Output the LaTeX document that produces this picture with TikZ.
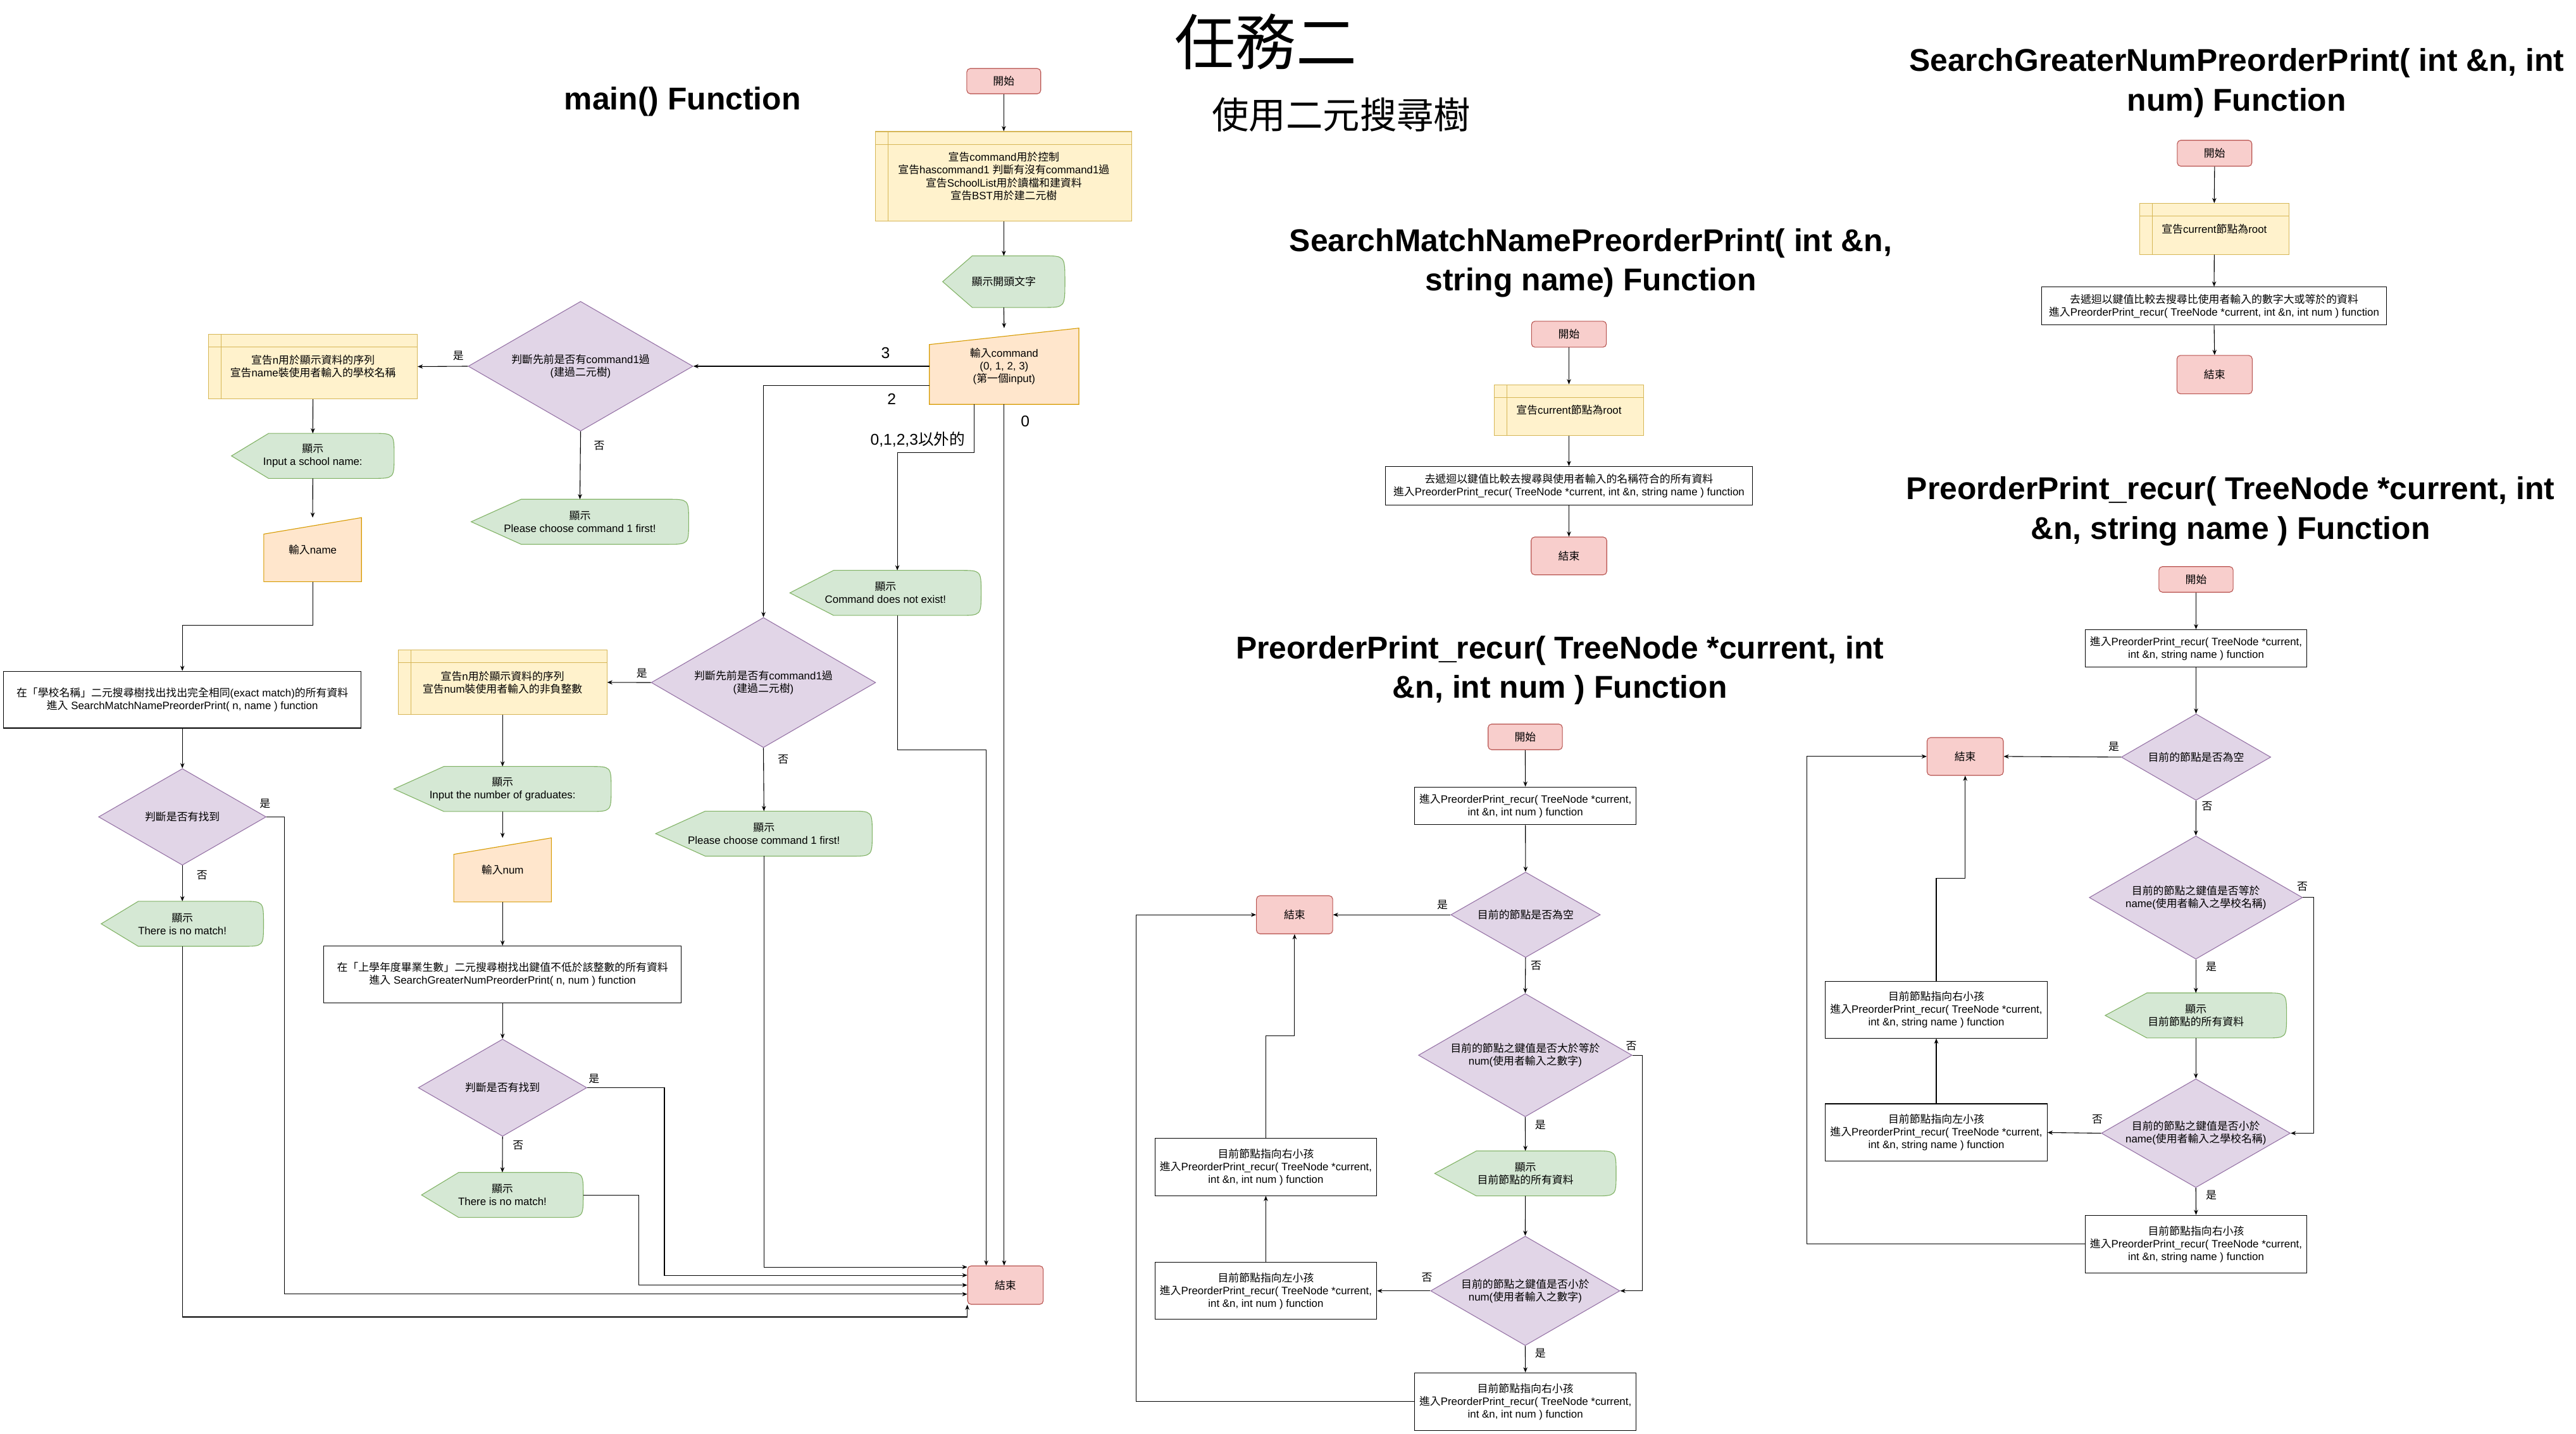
\documentclass[tikz,border=0pt]{standalone}
\usepackage{fontspec}
\setmainfont{Liberation Sans}
\newfontfamily\latinfont{Liberation Sans}
\newfontfamily\cjkfont{Noto Sans CJK TC}
\usetikzlibrary{shapes.geometric,arrows.meta,backgrounds}

% switch to the CJK font for runs of Chinese characters
\XeTeXinterchartokenstate=1
\newXeTeXintercharclass\cjkclass
\newcount\cjkcnt
\cjkcnt="3000
\loop\ifnum\cjkcnt<"A000
  \XeTeXcharclass\cjkcnt=\cjkclass
  \advance\cjkcnt by 1
\repeat
\cjkcnt="FF00
\loop\ifnum\cjkcnt<"FFF0
  \XeTeXcharclass\cjkcnt=\cjkclass
  \advance\cjkcnt by 1
\repeat
\XeTeXinterchartoks 0 \cjkclass = {\cjkfont}
\XeTeXinterchartoks 4095 \cjkclass = {\cjkfont}
\XeTeXinterchartoks \cjkclass 0 = {\latinfont}
\XeTeXinterchartoks \cjkclass 4095 = {\latinfont}

\definecolor{termfill}{HTML}{F8CECC}
\definecolor{termline}{HTML}{B85450}
\definecolor{storefill}{HTML}{FFF2CC}
\definecolor{storeline}{HTML}{D6B656}
\definecolor{dispfill}{HTML}{D5E8D4}
\definecolor{displine}{HTML}{82B366}
\definecolor{manfill}{HTML}{FFE6CC}
\definecolor{manline}{HTML}{D79B00}
\definecolor{decfill}{HTML}{E1D5E7}
\definecolor{decline}{HTML}{9673A6}

\begin{document}
\begin{tikzpicture}[
        x=0.05cm, y=0.05cm,
        >={Stealth[length=4.5pt,width=3.6pt]},
        font=\fontsize{9.25}{11}\selectfont,
        base/.style={
            align=center,
            inner sep=1pt,
            line width=0.6pt
        },
        term/.style={
            base,
            rectangle,
            rounded corners=3pt,
            draw=termline,
            fill=termfill
        },
        store/.style={
            base,
            rectangle,
            draw=storeline,
            fill=storefill,
            path picture={
                \draw[storeline, line width=0.6pt] ([xshift=0.38cm]path picture bounding box.north west) -- ([xshift=0.38cm]path picture bounding box.south west);
                \draw[storeline, line width=0.6pt] ([yshift=-0.39cm]path picture bounding box.north west) -- ([yshift=-0.39cm]path picture bounding box.north east);
            }
        },
        proc/.style={
            base,
            rectangle,
            draw=black,
            fill=white
        },
        decide/.style={
            base,
            diamond,
            aspect=1.73,
            inner sep=0pt,
            draw=decline,
            fill=decfill
        },
        disp/.style={
            base,
            inner sep=0pt
        },
        manin/.style={
            base,
            inner sep=0pt
        },
        dispshape/.style={
            draw=displine,
            fill=dispfill,
            line width=0.6pt
        },
        manshape/.style={
            draw=manline,
            fill=manfill,
            line width=0.6pt
        },
        ptr/.style={
            ->,
            line width=0.6pt
        },
        lbl/.style={inner sep=0pt},
        biglbl/.style={inner sep=0pt, font=\fontsize{13.5}{16}\selectfont},
        ttl/.style={align=center, font=\fontsize{27.3}{34}\selectfont\bfseries}
    ]

    \useasboundingbox (0,0) rectangle (1568,-873);

    % titles
    \node[font=\fontsize{52.6}{60}\selectfont] (tTask) at (770.5,-25.5) {任務二};
    \node[font=\fontsize{32}{38}\selectfont] (tBST) at (816.5,-70) {使用二元搜尋樹};
    \node[ttl] (tMain) at (415.5,-62) {main() Function};
    \node[ttl] (tMatch) at (968.3,-160) {SearchMatchNamePreorderPrint( int \&n,\\string name) Function};
    \node[ttl] (tGreater) at (1361.5,-50.5) {SearchGreaterNumPreorderPrint( int \&n, int\\num) Function};
    \node[ttl] (tRecNum) at (949.5,-408) {PreorderPrint\_recur( TreeNode *current, int\\\&n, int num ) Function};
    \node[ttl] (tRecName) at (1357.7,-311.3) {PreorderPrint\_recur( TreeNode *current, int\\\&n, string name ) Function};

    % main()
    \node[term, minimum width=2.25cm, minimum height=0.77cm] (mStart) at (611,-49.4) {開始};
    \node[store, minimum width=7.8cm, minimum height=2.72cm] (mDecl) at (611,-107.3) {宣告command用於控制\\宣告hascommand1 判斷有沒有command1過\\宣告SchoolList用於讀檔和建資料\\宣告BST用於建二元樹};
    \node[disp, minimum width=3.7cm, minimum height=1.55cm] (mShow) at (611,-171.5) {顯示開頭文字};
    \node[manin, minimum width=4.53cm, minimum height=2.3cm] (mCmd) at (611.2,-223) {輸入command\\(0, 1, 2, 3)\\(第一個input)};
    \node[term, minimum width=2.3cm, minimum height=1.17cm] (mEnd) at (612,-782.5) {結束};
    \node[disp, minimum width=5.8cm, minimum height=1.35cm] (mNotExist) at (539,-361) {顯示\\Command does not exist!};

    \node[decide, minimum width=6.84cm, minimum height=3.95cm] (mHas1) at (353.4,-223) {判斷先前是否有command1過\\(建過二元樹)};
    \node[store, minimum width=6.35cm, minimum height=1.97cm] (mDeclName) at (190.5,-223.2) {宣告n用於顯示資料的序列\\宣告name裝使用者輸入的學校名稱};
    \node[disp, minimum width=6.6cm, minimum height=1.35cm] (mNo1) at (353,-317.7) {顯示\\Please choose command 1 first!};
    \node[disp, minimum width=4.93cm, minimum height=1.35cm] (mAskName) at (190.4,-277.6) {顯示\\Input a school name:};
    \node[manin, minimum width=2.95cm, minimum height=1.93cm] (mInName) at (190.3,-334.7) {輸入name};
    \node[proc, minimum width=10.88cm, minimum height=1.73cm] (mFindName) at (111,-426) {在「學校名稱」二元搜尋樹找出找出完全相同(exact match)的所有資料\\進入 SearchMatchNamePreorderPrint( n, name ) function};
    \node[decide, minimum width=5.1cm, minimum height=2.94cm] (mFound1) at (111,-497.4) {判斷是否有找到};
    \node[disp, minimum width=4.92cm, minimum height=1.35cm] (mNoMatch1) at (111,-562.5) {顯示\\There is no match!};

    \node[decide, minimum width=6.83cm, minimum height=3.96cm] (mHas2) at (464.7,-415.6) {判斷先前是否有command1過\\(建過二元樹)};
    \node[store, minimum width=6.35cm, minimum height=1.97cm] (mDeclNum) at (305.9,-415.5) {宣告n用於顯示資料的序列\\宣告num裝使用者輸入的非負整數};
    \node[disp, minimum width=6.57cm, minimum height=1.35cm] (mNo2) at (465,-507.6) {顯示\\Please choose command 1 first!};
    \node[disp, minimum width=6.59cm, minimum height=1.35cm] (mAskNum) at (305.9,-480.4) {顯示\\Input the number of graduates:};
    \node[manin, minimum width=2.95cm, minimum height=1.93cm] (mInNum) at (305.9,-529.7) {輸入num};
    \node[proc, minimum width=10.89cm, minimum height=1.73cm] (mFindNum) at (305.9,-593.3) {在「上學年度畢業生數」二元搜尋樹找出鍵值不低於該整數的所有資料\\進入 SearchGreaterNumPreorderPrint( n, num ) function};
    \node[decide, minimum width=5.13cm, minimum height=2.96cm] (mFound2) at (305.9,-662.3) {判斷是否有找到};
    \node[disp, minimum width=4.9cm, minimum height=1.35cm] (mNoMatch2) at (305.8,-727.6) {顯示\\There is no match!};

    \node[biglbl] (l3) at (539,-215) {3};
    \node[biglbl] (l2) at (542.8,-243) {2};
    \node[biglbl] (lOther) at (558.6,-267.7) {0,1,2,3以外的};
    \node[biglbl] (l0) at (624,-256.7) {0};
    \node[lbl] (lYes1) at (279,-216.6) {是};
    \node[lbl] (lNo1) at (364.8,-271.4) {否};
    \node[lbl] (lYes2) at (390.7,-410) {是};
    \node[lbl] (lNo2) at (476.8,-462.6) {否};
    \node[lbl] (lYes3) at (161.3,-489.2) {是};
    \node[lbl] (lNo3) at (123,-533) {否};
    \node[lbl] (lYes4) at (361.6,-656.8) {是};
    \node[lbl] (lNo4) at (315.4,-697.2) {否};

    % SearchMatchNamePreorderPrint
    \node[term, minimum width=2.28cm, minimum height=0.79cm] (smStart) at (955,-203.5) {開始};
    \node[store, minimum width=4.54cm, minimum height=1.55cm] (smDecl) at (955,-249.7) {宣告current節點為root};
    \node[proc, minimum width=11.17cm, minimum height=1.17cm] (smCall) at (955,-295.7) {去遞迴以鍵值比較去搜尋與使用者輸入的名稱符合的所有資料\\進入PreorderPrint\_recur( TreeNode *current, int \&n, string name ) function};
    \node[term, minimum width=2.3cm, minimum height=1.15cm] (smEnd) at (955,-338.5) {結束};

    % SearchGreaterNumPreorderPrint
    \node[term, minimum width=2.27cm, minimum height=0.79cm] (sgStart) at (1348,-93.3) {開始};
    \node[store, minimum width=4.54cm, minimum height=1.55cm] (sgDecl) at (1347.8,-139.4) {宣告current節點為root};
    \node[proc, minimum width=10.5cm, minimum height=1.16cm] (sgCall) at (1347.7,-186.3) {去遞迴以鍵值比較去搜尋比使用者輸入的數字大或等於的資料\\進入PreorderPrint\_recur( TreeNode *current, int \&n, int num ) function};
    \node[term, minimum width=2.29cm, minimum height=1.17cm] (sgEnd) at (1348,-228.1) {結束};

    % PreorderPrint_recur, int num
    \node[term, minimum width=2.26cm, minimum height=0.78cm] (rnStart) at (928.4,-448.7) {開始};
    \node[proc, minimum width=6.75cm, minimum height=1.15cm] (rnCall) at (928.5,-490.7) {進入PreorderPrint\_recur( TreeNode *current,\\int \&n, int num ) function};
    \node[decide, minimum width=4.55cm, minimum height=2.6cm] (rnNull) at (928.6,-557) {目前的節點是否為空};
    \node[term, minimum width=2.32cm, minimum height=1.16cm] (rnEnd) at (788,-557) {結束};
    \node[decide, minimum width=6.5cm, minimum height=3.75cm] (rnGe) at (928.4,-642.5) {目前的節點之鍵值是否大於等於\\num(使用者輸入之數字)};
    \node[disp, minimum width=5.5cm, minimum height=1.35cm] (rnShow) at (928.5,-714.5) {顯示\\目前節點的所有資料};
    \node[decide, minimum width=5.76cm, minimum height=3.33cm] (rnLt) at (928.4,-786) {目前的節點之鍵值是否小於\\num(使用者輸入之數字)};
    \node[proc, minimum width=6.75cm, minimum height=1.73cm] (rnLeft) at (770.5,-786) {目前節點指向左小孩\\進入PreorderPrint\_recur( TreeNode *current,\\int \&n, int num ) function};
    \node[proc, minimum width=6.75cm, minimum height=1.75cm] (rnRight) at (770.5,-710.5) {目前節點指向右小孩\\進入PreorderPrint\_recur( TreeNode *current,\\int \&n, int num ) function};
    \node[proc, minimum width=6.75cm, minimum height=1.75cm] (rnRight2) at (928.5,-853.4) {目前節點指向右小孩\\進入PreorderPrint\_recur( TreeNode *current,\\int \&n, int num ) function};

    \node[lbl] (rnY1) at (878,-551) {是};
    \node[lbl] (rnN1) at (935,-588) {否};
    \node[lbl] (rnN2) at (993,-637) {否};
    \node[lbl] (rnY2) at (937.6,-685) {是};
    \node[lbl] (rnN3) at (868.6,-778) {否};
    \node[lbl] (rnY3) at (937.6,-824) {是};

    % PreorderPrint_recur, string name
    \node[term, minimum width=2.26cm, minimum height=0.78cm] (rsStart) at (1336.7,-352.8) {開始};
    \node[proc, minimum width=6.75cm, minimum height=1.13cm] (rsCall) at (1336.7,-394.7) {進入PreorderPrint\_recur( TreeNode *current,\\int \&n, string name ) function};
    \node[decide, minimum width=4.55cm, minimum height=2.63cm] (rsNull) at (1336.7,-461) {目前的節點是否為空};
    \node[term, minimum width=2.32cm, minimum height=1.15cm] (rsEnd) at (1196.2,-460.6) {結束};
    \node[decide, minimum width=6.49cm, minimum height=3.75cm] (rsEq) at (1336.6,-546.5) {目前的節點之鍵值是否等於\\name(使用者輸入之學校名稱)};
    \node[disp, minimum width=5.5cm, minimum height=1.35cm] (rsShow) at (1336.6,-618.3) {顯示\\目前節點的所有資料};
    \node[decide, minimum width=5.75cm, minimum height=3.31cm] (rsLt) at (1336.6,-690) {目前的節點之鍵值是否小於\\name(使用者輸入之學校名稱)};
    \node[proc, minimum width=6.75cm, minimum height=1.75cm] (rsLeft) at (1178.6,-689.6) {目前節點指向左小孩\\進入PreorderPrint\_recur( TreeNode *current,\\int \&n, string name ) function};
    \node[proc, minimum width=6.75cm, minimum height=1.73cm] (rsRight) at (1178.6,-614.8) {目前節點指向右小孩\\進入PreorderPrint\_recur( TreeNode *current,\\int \&n, string name ) function};
    \node[proc, minimum width=6.75cm, minimum height=1.75cm] (rsRight2) at (1336.7,-757.5) {目前節點指向右小孩\\進入PreorderPrint\_recur( TreeNode *current,\\int \&n, string name ) function};

    \node[lbl] (rsY1) at (1286.6,-454.6) {是};
    \node[lbl] (rsN1) at (1343.5,-491) {否};
    \node[lbl] (rsN2) at (1401.4,-540) {否};
    \node[lbl] (rsY2) at (1346,-588.8) {是};
    \node[lbl] (rsN3) at (1276.6,-681.4) {否};
    \node[lbl] (rsY3) at (1346,-727.7) {是};

    % outlines of display and manual input shapes
    \begin{scope}[on background layer]
        \fill[white] (0,0) rectangle (1568,-873);
        \foreach \n/\p in {mShow/0.9cm, mNotExist/1.33cm, mNo1/1.52cm, mAskName/1.13cm, mNoMatch1/1.13cm,
                mNo2/1.51cm, mAskNum/1.52cm, mNoMatch2/1.13cm, rnShow/1.27cm, rsShow/1.27cm} {
            \draw[dispshape] (\n.west) -- ([xshift=\p]\n.north west) -- ([xshift=-0.65cm]\n.north east)
                .. controls (\n.north east) .. (\n.east)
                .. controls (\n.south east) .. ([xshift=-0.65cm]\n.south east)
                -- ([xshift=\p]\n.south west) -- cycle;
        }
        \foreach \n in {mCmd, mInName, mInNum} {
            \draw[manshape] (\n.south west) -- ([yshift=-0.5cm]\n.north west) -- (\n.north east) -- (\n.south east) -- cycle;
        }
    \end{scope}

    % main() connectors
    \draw[ptr] (mStart.south) -- (mDecl.north);
    \draw[ptr] (mDecl.south) -- (mShow.north);
    \draw[ptr] (mShow.south) -- (mCmd.north);
    \draw[ptr] (mCmd.west) -- (mHas1.east);
    \draw[ptr] ([yshift=-0.58cm]mCmd.west) -| (mHas2.north);
    \draw[ptr] ([xshift=-0.91cm]mCmd.south) -- ++(0,-29.5) -| ([xshift=0.36cm]mNotExist.north);
    \draw[ptr] (mCmd.south) -- (mCmd.south |- mEnd.north);
    \draw[ptr] ([xshift=0.36cm]mNotExist.south) -- ++(0,-82) -| ([xshift=-0.585cm]mEnd.north);

    \draw[ptr] (mHas1.west) -- (mDeclName.east);
    \draw[ptr] (mHas1.south) -- (mNo1.north);
    \draw[ptr] (mDeclName.south) -- (mAskName.north);
    \draw[ptr] (mAskName.south) -- (mInName.north);
    \draw[ptr] (mInName.south) -- ++(0,-26.5) -| (mFindName.north);
    \draw[ptr] (mFindName.south) -- (mFound1.north);
    \draw[ptr] (mFound1.south) -- (mNoMatch1.north);
    \draw[ptr] (mFound1.east) -- ++(11,0) |- ([yshift=-0.275cm]mEnd.west);
    \draw[ptr] (mNoMatch1.south) |- ([yshift=-0.375cm]mEnd.south west) -- (mEnd.south west);

    \draw[ptr] (mHas2.west) -- (mDeclNum.east);
    \draw[ptr] (mHas2.south) -- (mNo2.north);
    \draw[ptr] (mDeclNum.south) -- (mAskNum.north);
    \draw[ptr] (mAskNum.south) -- (mInNum.north);
    \draw[ptr] (mInNum.south) -- (mFindNum.north);
    \draw[ptr] (mFindNum.south) -- (mFound2.north);
    \draw[ptr] (mFound2.south) -- (mNoMatch2.north);
    \draw[ptr] (mFound2.east) -- ++(47,0) |- ([yshift=0.3cm]mEnd.west);
    \draw[ptr] (mNoMatch2.east) -- ++(33.8,0) |- (mEnd.west);
    \draw[ptr] (mNo2.south) |- ([yshift=0.55cm]mEnd.west);

    % search functions
    \draw[ptr] (smStart.south) -- (smDecl.north);
    \draw[ptr] (smDecl.south) -- (smCall.north);
    \draw[ptr] (smCall.south) -- (smEnd.north);
    \draw[ptr] (sgStart.south) -- (sgDecl.north);
    \draw[ptr] (sgDecl.south) -- (sgCall.north);
    \draw[ptr] (sgCall.south) -- (sgEnd.north);

    % recursion, int num
    \draw[ptr] (rnStart.south) -- (rnCall.north);
    \draw[ptr] (rnCall.south) -- (rnNull.north);
    \draw[ptr] (rnNull.west) -- (rnEnd.east);
    \draw[ptr] (rnNull.south) -- (rnGe.north);
    \draw[ptr] (rnGe.south) -- (rnShow.north);
    \draw[ptr] (rnShow.south) -- (rnLt.north);
    \draw[ptr] (rnGe.east) -- ++(6.2,0) |- (rnLt.east);
    \draw[ptr] (rnLt.west) -- (rnLeft.east);
    \draw[ptr] (rnLt.south) -- (rnRight2.north);
    \draw[ptr] (rnLeft.north) -- (rnRight.south);
    \draw[ptr] (rnRight.north) -- ++(0,62.2) -| (rnEnd.south);
    \draw[ptr] (rnRight2.west) -- ++(-169.4,0) |- (rnEnd.west);

    % recursion, string name
    \draw[ptr] (rsStart.south) -- (rsCall.north);
    \draw[ptr] (rsCall.south) -- (rsNull.north);
    \draw[ptr] (rsNull.west) -- (rsEnd.east);
    \draw[ptr] (rsNull.south) -- (rsEq.north);
    \draw[ptr] (rsEq.south) -- (rsShow.north);
    \draw[ptr] (rsShow.south) -- (rsLt.north);
    \draw[ptr] (rsEq.east) -- ++(6.5,0) |- (rsLt.east);
    \draw[ptr] (rsLt.west) -- (rsLeft.east);
    \draw[ptr] (rsLt.south) -- (rsRight2.north);
    \draw[ptr] (rsLeft.north) -- (rsRight.south);
    \draw[ptr] (rsRight.north) -- ++(0,62.5) -| (rsEnd.south);
    \draw[ptr] (rsRight2.west) -- ++(-169.2,0) |- (rsEnd.west);

\end{tikzpicture}
\end{document}
